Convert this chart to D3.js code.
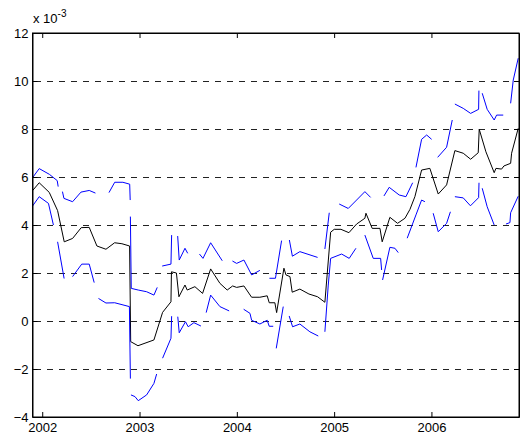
<!DOCTYPE html>
<html>
<head>
<meta charset="utf-8">
<script src="https://cdn.jsdelivr.net/npm/d3@7"></script>
<style>
  body { margin: 0; background: #fff; }
  svg text { font-family: "Liberation Sans", Arial, sans-serif; font-size: 13px; }
</style>
</head>
<body>
<div id="chart"></div>
<script>
// estimate (x 10^-3), dates as decimal years
var estDates = [2001.9, 2001.969, 2002.072, 2002.158, 2002.226, 2002.312, 2002.401, 2002.483, 2002.562, 2002.655,
  2002.744, 2002.819, 2002.898, 2002.909, 2002.984, 2003.148, 2003.237, 2003.323, 2003.328, 2003.379,
  2003.405, 2003.467, 2003.490, 2003.569, 2003.648, 2003.731, 2003.826, 2003.901, 2003.957, 2003.998,
  2004.073, 2004.152, 2004.237, 2004.312, 2004.333, 2004.391, 2004.409, 2004.484, 2004.505, 2004.546,
  2004.569, 2004.648, 2004.741, 2004.830, 2004.905, 2004.964, 2005.001, 2005.070, 2005.152, 2005.231,
  2005.316, 2005.327, 2005.391, 2005.471, 2005.494, 2005.573, 2005.652, 2005.728, 2005.779, 2005.830,
  2005.899, 2005.984, 2006.070, 2006.156, 2006.241, 2006.327, 2006.403, 2006.481, 2006.491, 2006.560,
  2006.645, 2006.663, 2006.721, 2006.745, 2006.814, 2006.824, 2006.892];
var estValues = [5.43, 5.76, 5.36, 4.6, 3.3, 3.44, 3.89, 3.9, 3.125, 2.99,
  3.26, 3.22, 3.125, -0.86, -1.03, -0.79, 0.36, 0.8, 2.05, 2.0,
  1.01, 1.5, 1.29, 1.43, 1.15, 2.17, 1.57, 1.29, 1.46, 1.40,
  1.46, 0.99, 0.99, 1.05, 0.76, 0.76, 0.35, 2.2, 1.92, 1.85,
  1.2, 1.33, 1.125, 1.01, 0.78, 3.7, 3.82, 3.82, 3.68, 4.04,
  4.28, 4.49, 3.86, 3.86, 3.3, 4.32, 4.07, 4.28, 4.65, 5.18,
  6.29, 6.36, 5.29, 5.67, 7.1, 6.99, 6.74, 7.01, 7.99, 7.05,
  6.18, 6.36, 6.33, 6.46, 6.57, 6.99, 8.03];

// upper band, pieces split by gaps
var upperBand = [
  [[2001.9, 5.97], [2001.969, 6.35], [2002.074, 6.11], [2002.154, 5.85], [2002.164, 5.6]],
  [[2002.208, 5.39], [2002.223, 5.11], [2002.312, 4.97], [2002.398, 5.37], [2002.483, 5.44], [2002.547, 5.33]],
  [[2002.686, 5.35], [2002.745, 5.78], [2002.829, 5.78], [2002.899, 5.7], [2002.904, 5.04]],
  [[2002.906, 4.35], [2002.915, 1.36], [2002.987, 1.29], [2003.073, 1.22], [2003.148, 1.08], [2003.182, 1.4]],
  [[2003.233, 2.29], [2003.323, 2.37], [2003.330, 3.58]],
  [[2003.392, 3.54], [2003.408, 2.54], [2003.467, 3.03], [2003.495, 2.82]],
  [[2003.616, 2.79], [2003.652, 2.61], [2003.731, 3.26], [2003.850, 2.51]],
  [[2003.955, 2.5], [2003.998, 2.4], [2004.073, 2.54], [2004.152, 1.92], [2004.237, 2.11]],
  [[2004.335, 1.78], [2004.397, 1.78], [2004.460, 3.35]],
  [[2004.540, 3.375], [2004.571, 2.7], [2004.648, 2.89], [2004.830, 2.65]],
  [[2004.905, 3.0], [2004.950, 4.51]],
  [[2005.052, 4.875], [2005.145, 4.69], [2005.231, 5.04], [2005.316, 5.39], [2005.375, 5.15]],
  [[2005.512, 5.21], [2005.566, 5.57], [2005.669, 5.25], [2005.738, 5.18], [2005.807, 5.76]],
  [[2005.841, 6.4], [2005.899, 7.57], [2005.951, 7.75], [2006.002, 7.57]],
  [[2006.064, 6.82], [2006.156, 7.24], [2006.214, 8.375]],
  [[2006.241, 9.04], [2006.327, 8.86], [2006.403, 8.65], [2006.485, 8.82], [2006.488, 9.6]],
  [[2006.522, 9.49], [2006.573, 8.82], [2006.645, 8.375], [2006.670, 8.58], [2006.738, 8.58]],
  [[2006.814, 9.07], [2006.841, 10.04], [2006.892, 10.95]]
];

// lower band
var lowerBand = [
  [[2001.9, 4.79], [2001.969, 5.18], [2002.064, 4.9], [2002.115, 4.0]],
  [[2002.158, 3.3], [2002.225, 1.77]],
  [[2002.312, 1.85], [2002.406, 2.37], [2002.483, 2.37], [2002.534, 1.6]],
  [[2002.578, 0.94], [2002.655, 0.75], [2002.745, 0.76], [2002.896, 0.6], [2002.906, -2.4]],
  [[2002.912, -3.08], [2002.953, -3.15], [2002.987, -3.32], [2003.073, -3.08], [2003.148, -2.6], [2003.176, -2.21]],
  [[2003.237, -1.55], [2003.323, -0.72], [2003.330, 0.2]],
  [[2003.393, 0.18], [2003.408, -0.49], [2003.472, -0.03], [2003.500, -0.24], [2003.559, -0.07], [2003.631, -0.21]],
  [[2003.685, 0.35], [2003.731, 1.08], [2003.826, 0.6], [2003.921, 0.42]],
  [[2004.070, 0.49], [2004.135, 0.32], [2004.152, 0.03], [2004.237, -0.125], [2004.312, 0.03], [2004.333, -0.22], [2004.374, -0.22]],
  [[2004.405, -1.14], [2004.477, 0.6]],
  [[2004.538, 0.21], [2004.573, -0.24], [2004.648, -0.125], [2004.751, -0.45], [2004.837, -0.625]],
  [[2004.905, -0.45], [2004.939, 1.46], [2004.964, 2.61], [2005.077, 2.79], [2005.155, 2.61], [2005.224, 3.03]],
  [[2005.316, 3.58], [2005.402, 2.61], [2005.478, 2.61], [2005.488, 2.125]],
  [[2005.498, 1.71], [2005.573, 3.07], [2005.625, 3.03], [2005.659, 2.85]],
  [[2005.751, 3.45], [2005.841, 4.42], [2005.899, 5.04], [2005.933, 4.97]],
  [[2006.018, 4.49], [2006.070, 3.72], [2006.156, 4.07], [2006.195, 4.55]],
  [[2006.241, 5.18], [2006.327, 5.13], [2006.401, 4.8], [2006.485, 5.14], [2006.489, 5.76]],
  [[2006.522, 5.53], [2006.573, 4.76], [2006.645, 4.0]],
  [[2006.766, 4.04], [2006.807, 4.1], [2006.814, 4.51], [2006.892, 5.2]]
];

var yearTicks = [2002, 2003, 2004, 2005, 2006];
var yTicks = [-4, -2, 0, 2, 4, 6, 8, 10, 12];
var gridTicks = [-2, 0, 2, 4, 6, 8, 10];

var width = 531, height = 437;
var plotLeft = 32.5, plotRight = 519, plotTop = 33, plotBottom = 417;

var svg = d3.select("#chart").append("svg")
  .attr("width", width)
  .attr("height", height);

var x = d3.scaleLinear().domain([2001.9, 2006.9]).range([plotLeft, plotRight]);
var y = d3.scaleLinear().domain([-4, 12]).range([plotBottom, plotTop]);

// dashed grid lines (half pixel so they stay crisp)
svg.append("g").selectAll("line")
  .data(gridTicks)
  .enter()
  .append("line")
  .attr("x1", plotLeft)
  .attr("x2", plotRight)
  .attr("y1", d => y(d) + 0.5)
  .attr("y2", d => y(d) + 0.5)
  .attr("stroke", "#222")
  .attr("stroke-width", 1)
  .attr("stroke-dasharray", "6,6")
  .attr("stroke-dashoffset", -2.5);

var line = d3.line()
  .x(d => x(d[0]))
  .y(d => y(d[1]));

var estPoints = estDates.map((d, i) => [d, estValues[i]]);

svg.append("path")
  .datum(estPoints)
  .attr("d", line)
  .attr("fill", "none")
  .attr("stroke", "#000")
  .attr("stroke-width", 1);

svg.append("g").selectAll("path")
  .data(upperBand.concat(lowerBand))
  .enter()
  .append("path")
  .attr("d", line)
  .attr("fill", "none")
  .attr("stroke", "#0000ff")
  .attr("stroke-width", 1);

// axes, ticks pointing in
var xAxis = d3.axisBottom(x).tickValues(yearTicks).tickFormat(d3.format("d"))
  .tickSize(-5).tickSizeOuter(0).tickPadding(6);
var yAxis = d3.axisLeft(y).tickValues(yTicks).tickFormat(d3.format("d"))
  .tickSize(-5).tickSizeOuter(0).tickPadding(4);

svg.append("g").attr("transform", "translate(0," + plotBottom + ")").call(xAxis);
svg.append("g").attr("transform", "translate(" + plotLeft + ",0)").call(yAxis);
svg.append("g").attr("transform", "translate(0," + plotTop + ")")
  .call(d3.axisTop(x).tickValues(yearTicks).tickFormat("").tickSize(-5).tickSizeOuter(0));
svg.append("g").attr("transform", "translate(" + plotRight + ",0)")
  .call(d3.axisRight(y).tickValues(yTicks).tickFormat("").tickSize(-5).tickSizeOuter(0));

svg.selectAll(".tick line").attr("stroke", "#000");
svg.selectAll(".domain").attr("stroke", "#000");
svg.selectAll(".tick text")
  .attr("fill", "#000")
  .style("font-family", '"Liberation Sans", Arial, sans-serif')
  .style("font-size", "13px");

svg.append("rect")
  .attr("x", plotLeft)
  .attr("y", plotTop)
  .attr("width", plotRight - plotLeft)
  .attr("height", plotBottom - plotTop)
  .attr("fill", "none")
  .attr("stroke", "#000")
  .attr("stroke-width", 1);

// exponent label
var expo = svg.append("text")
  .attr("x", 33)
  .attr("y", 23)
  .attr("fill", "#000")
  .text("x 10");
expo.append("tspan")
  .attr("dy", -6)
  .style("font-size", "10px")
  .text("-3");
</script>
</body>
</html>
